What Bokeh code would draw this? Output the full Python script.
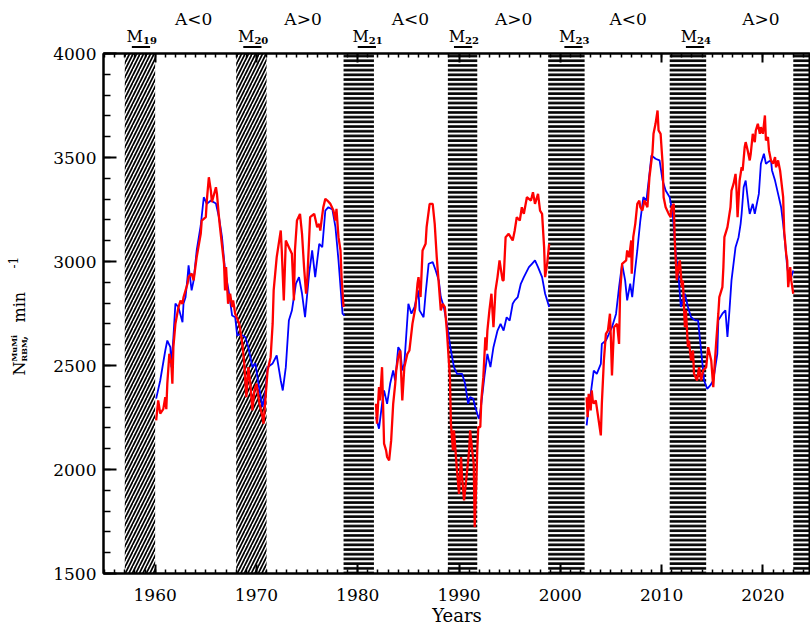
from math import pi
from bokeh.plotting import figure
from bokeh.layouts import column, row
from bokeh.models import Range1d, SingleIntervalTicker, LinearAxis
from bokeh.core.properties import value
from bokeh.embed import file_html
from bokeh.resources import INLINE

# ---------------- data ----------------
band_start = [1957.0, 1968.0, 1978.6, 1988.9, 1998.8, 2010.8, 2023.0]
band_end = [1960.0, 1971.0, 1981.6, 1991.8, 2002.4, 2014.4, 2026.0]
band_hatch = ["/", "/", "-", "-", "-", "-", "-"]

min_names = ["19", "20", "21", "22", "23", "24"]
min_pos = [1958.6, 1969.6, 1980.9, 1990.4, 2001.3, 2013.3]

pol_names = ["A<0", "A>0", "A<0", "A>0", "A<0", "A>0"]
pol_pos = [1963.8, 1974.6, 1985.2, 1995.4, 2006.7, 2019.8]

blue_x1 = [1960.1, 1960.5, 1961.0, 1961.2, 1961.5, 1961.6, 1961.8, 1962.0, 1962.3, 1962.7, 1962.8, 1963.0,
           1963.2, 1963.3, 1963.6, 1963.8, 1964.1, 1964.5, 1964.8, 1965.1, 1965.5, 1966.0, 1966.3, 1966.6,
           1966.9, 1967.3, 1967.6, 1967.9, 1968.1, 1968.4, 1968.9, 1969.2, 1969.6, 1969.9, 1970.2, 1970.6,
           1970.9, 1971.1, 1971.6, 1972.0, 1972.4, 1972.6, 1972.9, 1973.2, 1973.5, 1973.9, 1974.2, 1974.5,
           1974.8, 1975.2, 1975.5, 1975.8, 1976.2, 1976.5, 1976.8, 1977.1, 1977.5, 1977.8, 1978.1, 1978.5, 1978.7]
blue_y1 = [2341, 2428, 2572, 2620, 2588, 2492, 2636, 2798, 2780, 2708, 2798, 2828,
           2925, 2981, 2861, 2909, 3053, 3173, 3309, 3277, 3293, 3279, 3213, 3117,
           2957, 2846, 2740, 2732, 2644, 2652, 2636, 2588, 2492, 2510, 2412, 2300,
           2380, 2492, 2510, 2548, 2428, 2380, 2492, 2716, 2764, 2894, 2925, 2846,
           2732, 2942, 3053, 2925, 3085, 3069, 3245, 3261, 3250, 3165, 3005, 2749, 2740]

red_x1 = [1960.1, 1960.3, 1960.5, 1960.8, 1961.0, 1961.1, 1961.2, 1961.4, 1961.6, 1961.7, 1961.8, 1962.0,
          1962.3, 1962.5, 1962.7, 1962.8, 1963.2, 1963.3, 1963.6, 1963.8, 1964.1, 1964.5, 1964.6, 1965.0,
          1965.1, 1965.3, 1965.5, 1965.6, 1966.0, 1966.1, 1966.3, 1966.4, 1966.8, 1966.9, 1967.0, 1967.2,
          1967.4, 1967.6, 1967.7, 1967.9, 1968.3, 1968.6, 1968.8, 1969.0, 1969.2, 1969.4, 1969.6, 1969.8,
          1970.0, 1970.3, 1970.6, 1970.7, 1970.9, 1971.1, 1971.4, 1971.6, 1971.7, 1972.0, 1972.4, 1972.5,
          1972.7, 1972.9, 1973.2, 1973.5, 1973.7, 1973.8, 1974.0, 1974.3, 1974.5, 1974.7, 1974.9, 1975.0,
          1975.3, 1975.7, 1976.0, 1976.2, 1976.3, 1976.6, 1976.8, 1977.0, 1977.3, 1977.6, 1977.8, 1977.9,
          1978.1, 1978.3, 1978.4, 1978.6]
red_y1 = [2236, 2332, 2269, 2290, 2348, 2290, 2413, 2556, 2508, 2413, 2588, 2701,
          2780, 2812, 2796, 2828, 2894, 2925, 2942, 2909, 3021, 3133, 3197, 3213,
          3293, 3405, 3341, 3285, 3357, 3325, 3213, 3165, 2989, 2861, 2973, 2797,
          2845, 2781, 2813, 2749, 2701, 2605, 2508, 2348, 2492, 2413, 2284, 2380,
          2413, 2316, 2252, 2220, 2348, 2476, 2540, 2701, 2861, 3021, 3149, 3053,
          2813, 3101, 3069, 3037, 2813, 3053, 3197, 3229, 3133, 2973, 2845, 2893,
          3213, 3229, 3165, 3181, 3149, 3261, 3301, 3293, 3277, 3245, 3197, 3253,
          3117, 3053, 2925, 2781]

blue_x2 = [1981.8, 1982.1, 1982.4, 1982.6, 1982.9, 1983.2, 1983.5, 1983.7, 1984.0, 1984.2, 1984.4, 1984.6,
           1985.0, 1985.3, 1985.6, 1986.0, 1986.1, 1986.5, 1986.7, 1987.0, 1987.4, 1987.7, 1988.0, 1988.2,
           1988.5, 1988.8, 1989.2, 1989.5, 1989.8, 1990.3, 1990.6, 1990.9, 1991.1, 1991.4, 1991.6, 1991.9,
           1992.0, 1992.2, 1992.5, 1992.8, 1993.1, 1993.4, 1993.8, 1994.1, 1994.4, 1994.7, 1995.0, 1995.3,
           1995.5, 1995.8, 1996.1, 1996.4, 1996.9, 1997.2, 1997.5, 1997.8, 1998.2, 1998.5, 1998.9]
blue_y2 = [2252, 2196, 2316, 2380, 2316, 2412, 2476, 2428, 2588, 2572, 2476, 2508,
           2797, 2749, 2781, 2861, 2765, 2732, 2845, 2989, 2997, 2957, 2909, 2829,
           2781, 2700, 2572, 2492, 2460, 2460, 2412, 2316, 2348, 2340, 2300, 2252,
           2244, 2316, 2444, 2556, 2492, 2588, 2668, 2700, 2668, 2732, 2716, 2797,
           2813, 2829, 2893, 2925, 2973, 2989, 3005, 2973, 2925, 2845, 2781]

red_x2 = [1981.8, 1981.9, 1982.1, 1982.2, 1982.4, 1982.5, 1982.6, 1982.8, 1982.9, 1983.1, 1983.3, 1983.5,
          1983.7, 1983.8, 1984.0, 1984.2, 1984.3, 1984.4, 1984.6, 1984.9, 1985.1, 1985.4, 1985.7, 1985.9,
          1986.0, 1986.2, 1986.4, 1986.7, 1986.8, 1987.1, 1987.4, 1987.6, 1987.8, 1988.0, 1988.2, 1988.4,
          1988.6, 1988.8, 1989.1, 1989.2, 1989.4, 1989.5, 1989.8, 1990.0, 1990.2, 1990.3, 1990.5, 1990.8,
          1991.0, 1991.1, 1991.3, 1991.45, 1991.55, 1991.7, 1991.8, 1991.9, 1992.1, 1992.2, 1992.4, 1992.6,
          1992.7, 1992.8, 1993.0, 1993.2, 1993.4, 1993.6, 1993.8, 1994.0, 1994.3, 1994.4, 1994.6, 1994.9,
          1995.3, 1995.5, 1995.7, 1996.0, 1996.2, 1996.4, 1996.7, 1997.1, 1997.3, 1997.5, 1997.8, 1998.0,
          1998.2, 1998.4, 1998.5, 1998.7, 1998.9]
red_y2 = [2316, 2220, 2396, 2332, 2492, 2316, 2124, 2092, 2060, 2044, 2140, 2316,
          2412, 2476, 2540, 2572, 2444, 2332, 2492, 2556, 2572, 2700, 2781, 2893,
          2925, 2829, 3053, 3085, 3165, 3277, 3277, 3181, 3021, 2893, 2765, 2797,
          2781, 2668, 2444, 2220, 2092, 2188, 1995, 1883, 2060, 1963, 1851, 1995,
          2092, 2188, 2092, 2028, 1723, 1931, 2092, 2204, 2204, 2332, 2444, 2636,
          2572, 2668, 2765, 2845, 2684, 2861, 2925, 3005, 2909, 2909, 3117, 3133,
          3101, 3149, 3213, 3197, 3261, 3229, 3309, 3293, 3333, 3277, 3325, 3245,
          3229, 3069, 2925, 2989, 3085]

blue_x3 = [2002.6, 2002.7, 2003.0, 2003.3, 2003.6, 2004.0, 2004.1, 2004.5, 2004.8, 2005.1, 2005.5, 2005.8,
           2006.1, 2006.4, 2006.6, 2006.9, 2007.1, 2007.3, 2007.6, 2007.9, 2008.2, 2008.5, 2008.8, 2009.0,
           2009.4, 2009.8, 2010.1, 2010.4, 2010.8, 2011.1, 2011.4, 2011.7, 2011.9, 2012.3, 2012.6, 2012.9,
           2013.3, 2013.6, 2013.8, 2014.0, 2014.2, 2014.5, 2014.8, 2015.1, 2015.5, 2015.6, 2016.0, 2016.3,
           2016.5, 2016.7, 2016.9, 2017.3, 2017.6, 2017.8, 2017.9, 2018.1, 2018.3, 2018.6, 2018.7, 2019.0,
           2019.2, 2019.6, 2019.8, 2020.1, 2020.3, 2020.5, 2020.8, 2020.9, 2021.2, 2021.5, 2021.8, 2022.0,
           2022.2, 2022.4, 2022.6, 2022.8, 2023.0]
blue_y3 = [2212, 2260, 2364, 2476, 2460, 2508, 2604, 2620, 2652, 2684, 2748, 2877,
           2989, 2909, 2813, 2893, 2829, 2925, 3053, 3197, 3309, 3293, 3421, 3510,
           3494, 3486, 3389, 3341, 3309, 3229, 3037, 2909, 2781, 2845, 2781, 2733,
           2717, 2717, 2620, 2524, 2428, 2388, 2404, 2428, 2556, 2717, 2749, 2765,
           2637, 2765, 2909, 3069, 3117, 3181, 3229, 3357, 3389, 3261, 3229, 3277,
           3229, 3325, 3470, 3518, 3470, 3478, 3486, 3438, 3389, 3325, 3261, 3181,
           3085, 2973, 2909, 2925, 2957]

red_x3 = [2002.6, 2002.7, 2002.8, 2003.0, 2003.1, 2003.2, 2003.3, 2003.5, 2004.0, 2004.1, 2004.3, 2004.5,
          2004.7, 2004.9, 2005.0, 2005.1, 2005.3, 2005.6, 2005.8, 2005.9, 2006.1, 2006.5, 2006.6, 2006.8,
          2007.0, 2007.05, 2007.2, 2007.4, 2007.6, 2007.8, 2007.9, 2008.1, 2008.3, 2008.6, 2008.8, 2009.1,
          2009.2, 2009.4, 2009.6, 2009.7, 2009.9, 2010.1, 2010.2, 2010.4, 2010.7, 2010.9, 2011.0, 2011.2,
          2011.3, 2011.5, 2011.7, 2011.8, 2012.0, 2012.1, 2012.3, 2012.4, 2012.6, 2012.7, 2012.9, 2013.1,
          2013.2, 2013.5, 2013.7, 2013.9, 2014.1, 2014.4, 2014.6, 2014.9, 2015.1, 2015.2, 2015.4, 2015.6,
          2015.7, 2016.0, 2016.1, 2016.2, 2016.5, 2016.8, 2016.9, 2017.1, 2017.3, 2017.4, 2017.5, 2017.7,
          2017.9, 2018.0, 2018.2, 2018.3, 2018.5, 2018.7, 2018.8, 2019.0, 2019.2, 2019.3, 2019.5, 2019.7,
          2019.8, 2020.0, 2020.2, 2020.3, 2020.5, 2020.6, 2020.8, 2021.0, 2021.2, 2021.3, 2021.5, 2021.7,
          2022.0, 2022.1, 2022.3, 2022.4, 2022.5, 2022.7, 2022.8, 2023.0]
red_y3 = [2348, 2252, 2364, 2284, 2380, 2332, 2316, 2332, 2164, 2316, 2524, 2652,
          2668, 2749, 2620, 2452, 2684, 2700, 2604, 2845, 2989, 3005, 3053, 3021,
          3101, 2941, 3117, 3181, 3277, 3293, 3261, 3245, 3293, 3261, 3405, 3526,
          3614, 3662, 3726, 3630, 3614, 3470, 3309, 3261, 3229, 3213, 3261, 3277,
          3101, 2909, 2989, 3005, 2877, 2909, 2684, 2765, 2588, 2620, 2524, 2572,
          2460, 2428, 2492, 2428, 2476, 2492, 2588, 2524, 2396, 2476, 2620, 2749,
          2829, 2877, 2973, 3117, 3165, 3261, 3341, 3373, 3421, 3341, 3213, 3389,
          3453, 3437, 3549, 3574, 3534, 3486, 3518, 3614, 3574, 3630, 3662, 3614,
          3646, 3614, 3702, 3582, 3598, 3534, 3486, 3470, 3502, 3453, 3486, 3437,
          3309, 3149, 3037, 3005, 2877, 2973, 2909, 2845]

blue_segments = [(blue_x1, blue_y1), (blue_x2, blue_y2), (blue_x3, blue_y3)]
red_segments = [(red_x1, red_y1), (red_x2, red_y2), (red_x3, red_y3)]

# ---------------- layout constants (pixels) ----------------
FONT = "DejaVu Serif"
X0, X1 = 1954.9, 2024.7
Y0, Y1 = 1500, 4000
W, H = 810, 632
HEAD_H = 48          # header strip with polarity / minimum labels
YLAB_W = 30          # strip with the rotated y label
TICKLAB_W = 68       # strip carrying the y tick labels
MAIN_LB = 5          # main plot left border (holds the label-less tick axis)
FRAME_TOP = 53
FRAME_BOTTOM = 573
TOP_B = FRAME_TOP - HEAD_H
BOT_B = H - FRAME_BOTTOM
MAIN_W = W - YLAB_W - TICKLAB_W

x_range = Range1d(X0, X1)
y_range = Range1d(Y0, Y1)
y_ticker = SingleIntervalTicker(interval=500, num_minor_ticks=5)

# ---------------- main plot ----------------
p = figure(width=MAIN_W, height=H - HEAD_H, output_backend="svg", toolbar_location=None,
           x_range=x_range, y_range=y_range,
           min_border_left=MAIN_LB, min_border_right=0,
           min_border_top=TOP_B, min_border_bottom=BOT_B)
p.grid.visible = False
p.outline_line_color = "black"
p.outline_line_width = 2

for s, e, h in zip(band_start, band_end, band_hatch):
    p.quad(left=s, right=e, bottom=Y0, top=Y1, fill_color=None, line_color=None,
           hatch_pattern=h, hatch_color="black",
           hatch_scale=7.0 if h == "/" else 4.7,
           hatch_weight=1.7 if h == "/" else 2.6)

for xs, ys in blue_segments:
    p.line(xs, ys, line_color="#0000ff", line_width=1.8)
for xs, ys in red_segments:
    p.line(xs, ys, line_color="#ff0000", line_width=2.3)

p.xaxis.ticker = SingleIntervalTicker(interval=10, num_minor_ticks=10)
p.yaxis.ticker = y_ticker
for ax in (p.xaxis[0], p.yaxis[0]):
    ax.axis_line_width = 2
    ax.major_tick_line_width = 2
    ax.minor_tick_line_width = 1.5
    ax.major_tick_out = 0
    ax.minor_tick_out = 0
    ax.major_label_text_font = FONT
    ax.major_label_text_font_size = "17px"
    ax.major_label_text_color = "black"
p.xaxis.major_tick_in = 9
p.xaxis.minor_tick_in = 4
p.yaxis.major_tick_in = 13
p.yaxis.minor_tick_in = 7
p.yaxis.major_label_text_color = None
p.yaxis.major_label_text_font_size = "1px"
p.yaxis.major_label_standoff = 0
p.xaxis.major_label_standoff = 15
p.xaxis.axis_label = "Years"
p.xaxis.axis_label_text_font = FONT
p.xaxis.axis_label_text_font_size = "18px"
p.xaxis.axis_label_text_font_style = "normal"
p.xaxis.axis_label_text_color = "black"
p.xaxis.axis_label_standoff = 1

top = LinearAxis(ticker=SingleIntervalTicker(interval=10, num_minor_ticks=10),
                 major_tick_in=9, minor_tick_in=4, major_tick_out=0, minor_tick_out=0,
                 axis_line_width=2, major_tick_line_width=2, minor_tick_line_width=1.5,
                 major_label_text_font_size="1px", major_label_text_color=None,
                 major_label_standoff=0)
p.add_layout(top, "above")

# ---------------- header strip (labels above the frame) ----------------
head = figure(width=MAIN_W, height=HEAD_H, output_backend="svg", toolbar_location=None,
              x_range=x_range, y_range=Range1d(HEAD_H, 0),
              x_axis_location=None, y_axis_location=None,
              min_border_left=MAIN_LB, min_border_right=0, min_border_top=0, min_border_bottom=0)
head.grid.visible = False
head.outline_line_color = None

head.text(x=pol_pos, y=[18] * len(pol_pos), text=pol_names, text_font=value(FONT),
          text_font_size="17px", text_align="center", text_baseline="alphabetic", text_color="black")
head.text(x=min_pos, y=[36] * len(min_pos), text=["M"] * len(min_pos), text_font=value(FONT),
          text_font_size="16px", text_align="right", text_baseline="alphabetic", text_color="black",
          x_offset=2)
head.text(x=min_pos, y=[40] * len(min_pos), text=min_names, text_font=value(FONT),
          text_font_size="10px", text_font_style="bold", text_align="left", text_baseline="alphabetic",
          text_color="black", x_offset=2)
head.segment(x0=[m - 0.9 for m in min_pos], x1=[m + 0.9 for m in min_pos],
             y0=[46.5] * len(min_pos), y1=[46.5] * len(min_pos), line_color="black", line_width=2)

# ---------------- strip carrying the y tick labels ----------------
tl = figure(width=TICKLAB_W, height=H, output_backend="svg", toolbar_location=None,
            x_range=Range1d(0, 1), y_range=y_range, x_axis_location=None,
            min_border_left=TICKLAB_W - 2, min_border_right=0,
            min_border_top=FRAME_TOP, min_border_bottom=BOT_B)
tl.grid.visible = False
tl.outline_line_color = None
tl.yaxis.ticker = y_ticker
tl.yaxis.axis_line_color = None
tl.yaxis.major_tick_line_color = None
tl.yaxis.minor_tick_line_color = None
tl.yaxis.major_tick_in = 0
tl.yaxis.major_tick_out = 0
tl.yaxis.minor_tick_in = 0
tl.yaxis.minor_tick_out = 0
tl.yaxis.major_label_standoff = 0
tl.yaxis.major_label_text_font = FONT
tl.yaxis.major_label_text_font_size = "17px"
tl.yaxis.major_label_text_color = "black"

# ---------------- strip with the rotated y label ----------------
side = figure(width=YLAB_W, height=H, output_backend="svg", toolbar_location=None,
              x_range=Range1d(0, YLAB_W), y_range=y_range,
              x_axis_location=None, y_axis_location=None,
              min_border_left=0, min_border_right=0, min_border_top=FRAME_TOP, min_border_bottom=BOT_B)
side.grid.visible = False
side.outline_line_color = None


def yd(py):
    return Y1 - (py - FRAME_TOP) * (Y1 - Y0) / (FRAME_BOTTOM - FRAME_TOP)


ang = pi / 2
lab_parts = [("N", 19, 375, "16px", "normal"),
             ("MuMi", 13, 361, "8px", "bold"),
             ("RBM", 23, 361, "8px", "bold"),
             (",", 19, 340, "16px", "normal"),
             ("min", 19, 322, "16px", "normal"),
             ("-1", 12, 268, "12px", "normal")]
for t, px, py, fs, st in lab_parts:
    side.text(x=[px], y=[yd(py)], text=[t], angle=ang, text_font=value(FONT), text_font_size=fs,
              text_font_style=st, text_align="left", text_baseline="alphabetic", text_color="black")

layout = row(side, tl, column(head, p, spacing=0), spacing=0)
open("out.html", "w").write(file_html(layout, INLINE))
